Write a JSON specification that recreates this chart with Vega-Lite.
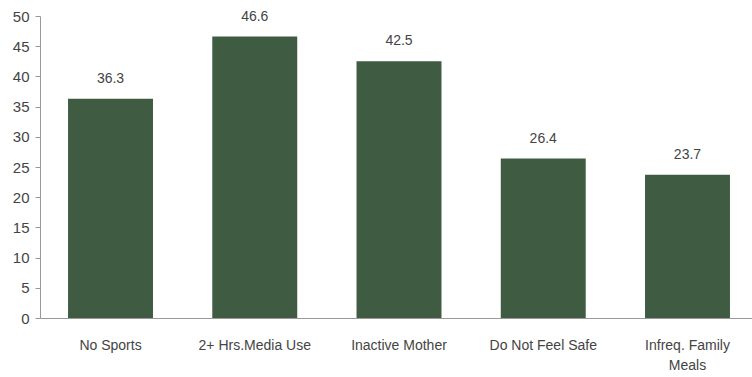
{
  "$schema": "https://vega.github.io/schema/vega-lite/v6.json",
  "autosize": "none",
  "width": 712,
  "height": 302,
  "padding": {"left": 40, "top": 16, "right": 0, "bottom": 59},
  "background": "white",
  "data": {"values": [
    {"category": "No Sports", "value": 36.3},
    {"category": "2+ Hrs.Media Use", "value": 46.6},
    {"category": "Inactive Mother", "value": 42.5},
    {"category": "Do Not Feel Safe", "value": 26.4},
    {"category": "Infreq. Family Meals", "value": 23.7}
  ]},
  "encoding": {
    "x": {"field": "category", "type": "nominal", "sort": null,
      "scale": {"paddingInner": 0.411, "paddingOuter": 0.1735, "align": 0.56},
      "axis": {"title": null, "labelAngle": 0, "labelFont": "Liberation Sans", "labelFontSize": 14, "labelColor": "#444", "labelPadding": 20,
        "ticks": false, "domainColor": "#999",
        "labelExpr": "datum.label == 'Infreq. Family Meals' ? ['Infreq. Family', 'Meals'] : datum.label", "labelLineHeight": 20}},
    "y": {"field": "value", "type": "quantitative",
      "scale": {"domain": [0, 50]},
      "axis": {"title": null, "values": [0,5,10,15,20,25,30,35,40,45,50], "grid": false, "labelFont": "Liberation Sans", "labelFontSize": 15, "labelColor": "#444",
        "tickColor": "#999", "tickSize": 5, "domainColor": "#999", "labelPadding": 6}}
  },
  "layer": [
    {"mark": {"type": "bar", "color": "#3f5c42"}},
    {"mark": {"type": "text", "dy": -20, "font": "Liberation Sans", "fontSize": 14, "color": "#444"},
      "encoding": {"text": {"field": "value", "type": "quantitative", "format": ".1f"}}}
  ],
  "config": {"view": {"stroke": null}}
}
